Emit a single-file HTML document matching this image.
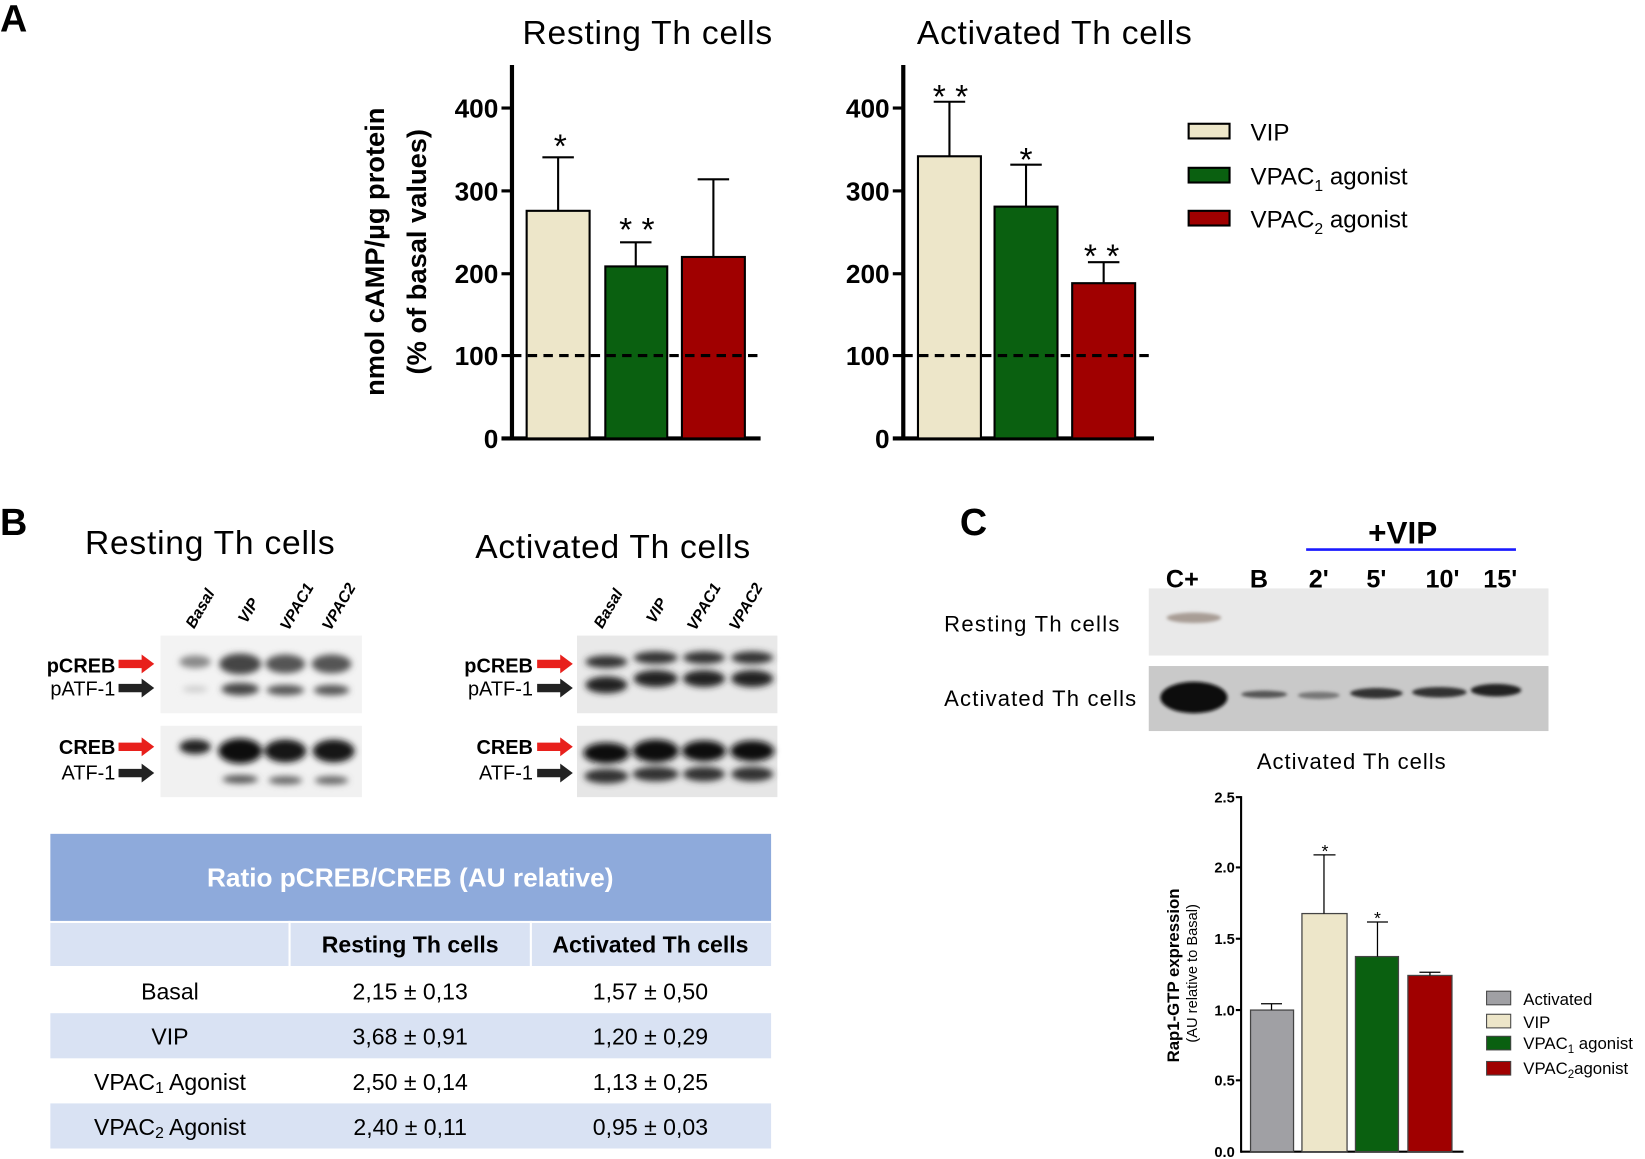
<!DOCTYPE html>
<html><head><meta charset="utf-8"><style>html,body{margin:0;padding:0;background:#fff}svg{display:block}text{font-family:"Liberation Sans",sans-serif}</style></head><body>
<svg width="1645" height="1159" viewBox="0 0 1568 1105" preserveAspectRatio="none" xmlns="http://www.w3.org/2000/svg">
<defs>
<filter id="bl" x="-50%" y="-50%" width="200%" height="200%"><feGaussianBlur stdDeviation="3"/></filter>
<filter id="bl2" x="-50%" y="-50%" width="200%" height="200%"><feGaussianBlur stdDeviation="1.5"/></filter>
</defs>
<!-- Panel A -->
<text x="0" y="30" font-size="36" font-weight="bold">A</text>
<text x="617" y="42" font-size="32" text-anchor="middle" textLength="238">Resting Th cells</text>
<text x="1005" y="42" font-size="32" text-anchor="middle" textLength="262">Activated Th cells</text>
<g font-weight="bold">
<text transform="translate(366,240) rotate(-90)" font-size="26" text-anchor="middle">nmol cAMP/µg protein</text>
<text transform="translate(406,240) rotate(-90)" font-size="26" text-anchor="middle">(% of basal values)</text>
</g>
<!-- left chart -->
<g stroke="#000">
<line x1="488" y1="62" x2="488" y2="420" stroke-width="4"/>
<line x1="478" y1="418" x2="725" y2="418" stroke-width="4"/>
<line x1="478" y1="103" x2="488" y2="103" stroke-width="3"/>
<line x1="478" y1="182" x2="488" y2="182" stroke-width="3"/>
<line x1="478" y1="261" x2="488" y2="261" stroke-width="3"/>
<line x1="478" y1="339" x2="488" y2="339" stroke-width="3"/>
<rect x="502" y="201" width="60" height="217" fill="#ede6c9" stroke-width="2"/>
<rect x="577" y="254" width="59" height="164" fill="#0a6010" stroke-width="2"/>
<rect x="650" y="245" width="60" height="173" fill="#a00000" stroke-width="2"/>
<line x1="532" y1="201" x2="532" y2="150" stroke-width="2"/><line x1="517" y1="150" x2="547" y2="150" stroke-width="2"/>
<line x1="606" y1="254" x2="606" y2="231" stroke-width="2"/><line x1="591" y1="231" x2="621" y2="231" stroke-width="2"/>
<line x1="680" y1="245" x2="680" y2="171" stroke-width="2"/><line x1="665" y1="171" x2="695" y2="171" stroke-width="2"/>
<line x1="488" y1="339" x2="725" y2="339" stroke-width="3" stroke-dasharray="9,6"/>
</g>
<g font-size="25" font-weight="bold" text-anchor="end">
<text x="475" y="112">400</text><text x="475" y="191">300</text><text x="475" y="270">200</text><text x="475" y="348">100</text><text x="475" y="427">0</text>
</g>
<g font-size="32" text-anchor="middle"><text x="534" y="150">*</text><text x="607" y="230">* *</text></g>
<!-- right chart -->
<g stroke="#000">
<line x1="861" y1="62" x2="861" y2="420" stroke-width="4"/>
<line x1="851" y1="418" x2="1100" y2="418" stroke-width="4"/>
<line x1="851" y1="103" x2="861" y2="103" stroke-width="3"/>
<line x1="851" y1="182" x2="861" y2="182" stroke-width="3"/>
<line x1="851" y1="261" x2="861" y2="261" stroke-width="3"/>
<line x1="851" y1="339" x2="861" y2="339" stroke-width="3"/>
<rect x="875" y="149" width="60" height="269" fill="#ede6c9" stroke-width="2"/>
<rect x="948" y="197" width="60" height="221" fill="#0a6010" stroke-width="2"/>
<rect x="1022" y="270" width="60" height="148" fill="#a00000" stroke-width="2"/>
<line x1="905" y1="149" x2="905" y2="97" stroke-width="2"/><line x1="890" y1="97" x2="920" y2="97" stroke-width="2"/>
<line x1="978" y1="197" x2="978" y2="157" stroke-width="2"/><line x1="963" y1="157" x2="993" y2="157" stroke-width="2"/>
<line x1="1052" y1="270" x2="1052" y2="250" stroke-width="2"/><line x1="1037" y1="250" x2="1067" y2="250" stroke-width="2"/>
<line x1="861" y1="339" x2="1095" y2="339" stroke-width="3" stroke-dasharray="9,6"/>
</g>
<g font-size="25" font-weight="bold" text-anchor="end">
<text x="848" y="112">400</text><text x="848" y="191">300</text><text x="848" y="270">200</text><text x="848" y="348">100</text><text x="848" y="427">0</text>
</g>
<g font-size="32" text-anchor="middle"><text x="906" y="103">* *</text><text x="978" y="163">*</text><text x="1050" y="255">* *</text></g>
<!-- legend A -->
<g stroke="#000" stroke-width="2">
<rect x="1133" y="118" width="39" height="14" fill="#ede6c9"/>
<rect x="1133" y="160" width="39" height="14" fill="#0a6010"/>
<rect x="1133" y="201" width="39" height="14" fill="#a00000"/>
</g>
<g font-size="23">
<text x="1192" y="134">VIP</text>
<text x="1192" y="176">VPAC<tspan font-size="15" dy="6">1</tspan><tspan dy="-6"> agonist</tspan></text>
<text x="1192" y="217">VPAC<tspan font-size="15" dy="6">2</tspan><tspan dy="-6"> agonist</tspan></text>
</g>
<!-- Panel B -->
<text x="0" y="510" font-size="36" font-weight="bold">B</text>
<text x="200" y="528" font-size="32" text-anchor="middle" textLength="238">Resting Th cells</text>
<text x="584" y="532" font-size="32" text-anchor="middle" textLength="262">Activated Th cells</text>
<g font-size="15" font-weight="bold" font-style="italic">
<text transform="translate(185,600) rotate(-60)">Basal</text>
<text transform="translate(235,595) rotate(-60)">VIP</text>
<text transform="translate(275,602) rotate(-60)">VPAC1</text>
<text transform="translate(315,602) rotate(-60)">VPAC2</text>
<text transform="translate(574,600) rotate(-60)">Basal</text>
<text transform="translate(624,595) rotate(-60)">VIP</text>
<text transform="translate(663,602) rotate(-60)">VPAC1</text>
<text transform="translate(703,602) rotate(-60)">VPAC2</text>
</g>
<rect x="153" y="606" width="192" height="74" fill="#f3f3f3"/>
<rect x="153" y="692" width="192" height="68" fill="#f1f1f1"/>
<rect x="550" y="606" width="191" height="74" fill="#e9e9e9"/>
<rect x="550" y="692" width="191" height="68" fill="#e6e6e6"/>
<g filter="url(#bl)">
<ellipse cx="186" cy="631" rx="15" ry="6" fill="#888"/>
<ellipse cx="229" cy="633" rx="20" ry="10" fill="#444"/>
<ellipse cx="272" cy="633" rx="19" ry="9" fill="#555"/>
<ellipse cx="316" cy="633" rx="19" ry="9" fill="#555"/>
<ellipse cx="186" cy="657" rx="12" ry="3" fill="#ccc"/>
<ellipse cx="229" cy="657" rx="18" ry="6" fill="#444"/>
<ellipse cx="272" cy="658" rx="18" ry="5" fill="#555"/>
<ellipse cx="316" cy="658" rx="17" ry="5" fill="#555"/>
<ellipse cx="186" cy="712" rx="15" ry="7" fill="#222"/>
<ellipse cx="229" cy="716" rx="21" ry="12" fill="#111"/>
<ellipse cx="272" cy="716" rx="20" ry="11" fill="#151515"/>
<ellipse cx="318" cy="716" rx="20" ry="11" fill="#151515"/>
<ellipse cx="229" cy="743" rx="17" ry="4" fill="#555"/>
<ellipse cx="272" cy="744" rx="16" ry="4" fill="#666"/>
<ellipse cx="316" cy="744" rx="16" ry="4" fill="#666"/>
<ellipse cx="578" cy="631" rx="20" ry="6" fill="#333"/>
<ellipse cx="625" cy="627" rx="21" ry="6" fill="#333"/>
<ellipse cx="671" cy="627" rx="20" ry="6" fill="#333"/>
<ellipse cx="717" cy="627" rx="20" ry="6" fill="#333"/>
<ellipse cx="578" cy="653" rx="20" ry="8" fill="#222"/>
<ellipse cx="625" cy="647" rx="21" ry="8" fill="#222"/>
<ellipse cx="671" cy="647" rx="20" ry="8" fill="#222"/>
<ellipse cx="717" cy="647" rx="20" ry="8" fill="#222"/>
<ellipse cx="578" cy="718" rx="22" ry="10" fill="#111"/>
<ellipse cx="625" cy="716" rx="22" ry="11" fill="#111"/>
<ellipse cx="671" cy="716" rx="21" ry="10" fill="#111"/>
<ellipse cx="717" cy="716" rx="21" ry="10" fill="#111"/>
<ellipse cx="578" cy="740" rx="21" ry="7" fill="#333"/>
<ellipse cx="625" cy="738" rx="22" ry="7" fill="#333"/>
<ellipse cx="671" cy="738" rx="20" ry="7" fill="#333"/>
<ellipse cx="717" cy="738" rx="20" ry="7" fill="#333"/>
</g>
<g font-size="19" text-anchor="end">
<text x="110" y="641" font-weight="bold">pCREB</text><text x="110" y="663">pATF-1</text>
<text x="110" y="719" font-weight="bold">CREB</text><text x="110" y="743">ATF-1</text>
<text x="508" y="641" font-weight="bold">pCREB</text><text x="508" y="663">pATF-1</text>
<text x="508" y="719" font-weight="bold">CREB</text><text x="508" y="743">ATF-1</text>
</g>
<g>
<path d="M113,629h22v-5l12,9l-12,9v-5h-22z" fill="#e8201c"/>
<path d="M113,652h22v-5l12,9l-12,9v-5h-22z" fill="#222"/>
<path d="M113,708h22v-5l12,9l-12,9v-5h-22z" fill="#e8201c"/>
<path d="M113,733h22v-5l12,9l-12,9v-5h-22z" fill="#222"/>
<path d="M512,629h22v-5l12,9l-12,9v-5h-22z" fill="#e8201c"/>
<path d="M512,652h22v-5l12,9l-12,9v-5h-22z" fill="#222"/>
<path d="M512,708h22v-5l12,9l-12,9v-5h-22z" fill="#e8201c"/>
<path d="M512,733h22v-5l12,9l-12,9v-5h-22z" fill="#222"/>
</g>
<!-- table -->
<rect x="48" y="795" width="687" height="83" fill="#8eaadb"/>
<text x="391" y="845" font-size="25" font-weight="bold" fill="#fff" text-anchor="middle">Ratio pCREB/CREB (AU relative)</text>
<rect x="48" y="880" width="687" height="41" fill="#d9e2f3"/>
<rect x="48" y="966" width="687" height="43" fill="#d9e2f3"/>
<rect x="48" y="1052" width="687" height="43" fill="#d9e2f3"/>
<line x1="276" y1="878" x2="276" y2="921" stroke="#fff" stroke-width="2"/>
<line x1="506" y1="878" x2="506" y2="921" stroke="#fff" stroke-width="2"/>
<g font-size="22" text-anchor="middle">
<text x="391" y="908" font-weight="bold">Resting Th cells</text><text x="620" y="908" font-weight="bold">Activated Th cells</text>
<text x="162" y="953">Basal</text><text x="391" y="953">2,15 ± 0,13</text><text x="620" y="953">1,57 ± 0,50</text>
<text x="162" y="996">VIP</text><text x="391" y="996">3,68 ± 0,91</text><text x="620" y="996">1,20 ± 0,29</text>
<text x="162" y="1039">VPAC<tspan font-size="15" dy="3">1</tspan><tspan dy="-3"> Agonist</tspan></text><text x="391" y="1039">2,50 ± 0,14</text><text x="620" y="1039">1,13 ± 0,25</text>
<text x="162" y="1082">VPAC<tspan font-size="15" dy="3">2</tspan><tspan dy="-3"> Agonist</tspan></text><text x="391" y="1082">2,40 ± 0,11</text><text x="620" y="1082">0,95 ± 0,03</text>
</g>
<!-- Panel C -->
<text x="915" y="510" font-size="36" font-weight="bold">C</text>
<text x="1337" y="518" font-size="30" font-weight="bold" text-anchor="middle">+VIP</text>
<line x1="1245" y1="524" x2="1445" y2="524" stroke="#1a1aff" stroke-width="2.5"/>
<g font-size="24" font-weight="bold" text-anchor="middle">
<text x="1127" y="560">C+</text><text x="1200" y="560">B</text><text x="1257" y="560">2'</text><text x="1312" y="560">5'</text><text x="1375" y="560">10'</text><text x="1430" y="560">15'</text>
</g>
<rect x="1095" y="561" width="381" height="64" fill="#e9e9e9"/>
<rect x="1095" y="635" width="381" height="62" fill="#c9c9c9"/>
<g filter="url(#bl2)">
<ellipse cx="1138" cy="589" rx="26" ry="5" fill="#a89d95"/>
<ellipse cx="1138" cy="665" rx="32" ry="15" fill="#0c0c0c"/>
<ellipse cx="1205" cy="662" rx="22" ry="3.5" fill="#555"/>
<ellipse cx="1257" cy="663" rx="20" ry="3.5" fill="#777"/>
<ellipse cx="1312" cy="661" rx="25" ry="5" fill="#333"/>
<ellipse cx="1372" cy="660" rx="26" ry="5" fill="#333"/>
<ellipse cx="1426" cy="658" rx="24" ry="6" fill="#222"/>
</g>
<g font-size="21">
<text x="900" y="602" textLength="167">Resting Th cells</text>
<text x="900" y="673" textLength="183">Activated Th cells</text>
<text x="1288" y="733" text-anchor="middle" textLength="180">Activated Th cells</text>
</g>
<g stroke="#000">
<line x1="1183" y1="759" x2="1183" y2="1099" stroke-width="2"/>
<line x1="1183" y1="1098" x2="1395" y2="1098" stroke-width="2"/>
<line x1="1178" y1="760" x2="1183" y2="760" stroke-width="2"/>
<line x1="1178" y1="827" x2="1183" y2="827" stroke-width="2"/>
<line x1="1178" y1="895" x2="1183" y2="895" stroke-width="2"/>
<line x1="1178" y1="963" x2="1183" y2="963" stroke-width="2"/>
<line x1="1178" y1="1030" x2="1183" y2="1030" stroke-width="2"/>
<rect x="1192" y="963" width="41" height="135" fill="#a0a0a4" stroke="#444" stroke-width="1.2"/>
<rect x="1241" y="871" width="43" height="227" fill="#ede6c9" stroke="#444" stroke-width="1.2"/>
<rect x="1292" y="912" width="41" height="186" fill="#0a6010" stroke="#444" stroke-width="1.2"/>
<rect x="1342" y="930" width="42" height="168" fill="#a00000" stroke="#444" stroke-width="1.2"/>
<g stroke-width="1.2">
<line x1="1212" y1="963" x2="1212" y2="957"/><line x1="1202" y1="957" x2="1222" y2="957"/>
<line x1="1262" y1="871" x2="1262" y2="815"/><line x1="1252" y1="815" x2="1273" y2="815"/>
<line x1="1313" y1="912" x2="1313" y2="879"/><line x1="1303" y1="879" x2="1323" y2="879"/>
<line x1="1363" y1="930" x2="1363" y2="927"/><line x1="1353" y1="927" x2="1373" y2="927"/>
</g>
</g>
<g font-size="14" font-weight="bold" text-anchor="end">
<text x="1177" y="765">2.5</text><text x="1177" y="832">2.0</text><text x="1177" y="900">1.5</text><text x="1177" y="968">1.0</text><text x="1177" y="1035">0.5</text><text x="1177" y="1103">0.0</text>
</g>
<g font-size="17" text-anchor="middle"><text x="1263" y="817">*</text><text x="1313" y="881">*</text></g>
<text transform="translate(1124,930) rotate(-90)" font-size="16" font-weight="bold" text-anchor="middle">Rap1-GTP expression</text>
<text transform="translate(1141,928) rotate(-90)" font-size="14" text-anchor="middle">(AU relative to Basal)</text>
<g stroke="#444" stroke-width="1">
<rect x="1417" y="945" width="23" height="13" fill="#a0a0a4"/>
<rect x="1417" y="967" width="23" height="13" fill="#ede6c9"/>
<rect x="1417" y="988" width="23" height="13" fill="#0a6010"/>
<rect x="1417" y="1012" width="23" height="13" fill="#a00000"/>
</g>
<g font-size="16">
<text x="1452" y="958">Activated</text>
<text x="1452" y="980">VIP</text>
<text x="1452" y="1000">VPAC<tspan font-size="11" dy="4">1</tspan><tspan dy="-4"> agonist</tspan></text>
<text x="1452" y="1024">VPAC<tspan font-size="11" dy="4">2</tspan><tspan dy="-4">agonist</tspan></text>
</g>
</svg>
</body></html>
